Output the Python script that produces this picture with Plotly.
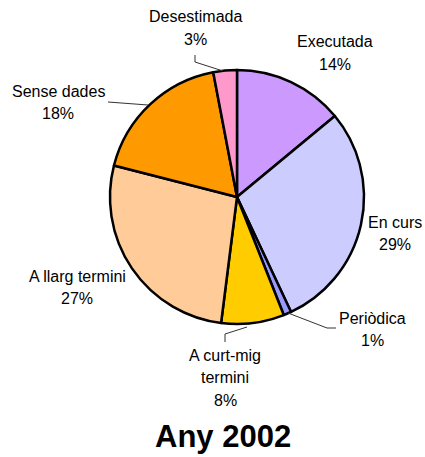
import plotly.graph_objects as go

# ---- data ----
labels = ["Executada", "En curs", "Periòdica", "A curt-mig termini",
          "A llarg termini", "Sense dades", "Desestimada"]
values = [14, 29, 1, 8, 27, 18, 3]
title_text = "Any 2002"

# ---- style ----
colors = ["#CC99FF", "#CCCCFF", "#9999FF", "#FFCC00", "#FFCC99", "#FF9900", "#FF99CC"]
W, H = 425, 457
FONT = "Liberation Sans, Arial, sans-serif"

name_lines = {
    "A curt-mig termini": ["A curt-mig", "termini"],
}
label_pos = {  # x centre, y of first line (window px)
    "Executada": (335, 42),
    "En curs": (395, 222),
    "Periòdica": (372, 318),
    "A curt-mig termini": (225, 355),
    "A llarg termini": (77, 276),
    "Sense dades": (58, 91),
    "Desestimada": (195, 17),
}
LINE_STEP = 22.5
leaders = [
    [(195, 55), (195, 62), (223, 71)],
    [(108, 102), (148, 105)],
    [(288, 313), (327, 328), (336, 328)],
    [(225, 342), (225, 334), (247, 327)],
]

cx, cy, r = 237, 197, 127

def px(x):
    return x / W

def py(y):
    return 1 - y / H

fig = go.Figure(go.Pie(
    labels=labels, values=values, sort=False, direction="clockwise",
    rotation=0, textinfo="none", hoverinfo="label+percent",
    marker=dict(colors=colors, line=dict(color="black", width=2.5)),
    domain=dict(x=[px(cx - r), px(cx + r)], y=[py(cy + r), py(cy - r)]),
    showlegend=False,
))

total = sum(values)
annotations = []
for lab, v in zip(labels, values):
    lines = name_lines.get(lab, [lab]) + [f"{round(v / total * 100)}%"]
    x0, y0 = label_pos[lab]
    for i, t in enumerate(lines):
        annotations.append(dict(
            x=px(x0), y=py(y0 + i * LINE_STEP), xref="paper", yref="paper",
            text=t, showarrow=False, xanchor="center", yanchor="middle",
            font=dict(family=FONT, size=16, color="black"),
        ))

annotations.append(dict(
    x=px(223), y=py(436), xref="paper", yref="paper", text=f"<b>{title_text}</b>",
    showarrow=False, xanchor="center", yanchor="middle",
    font=dict(family=FONT, size=31, color="black"),
))

shapes = []
for pts in leaders:
    path = "M " + " L ".join(f"{px(x)},{py(y)}" for x, y in pts)
    shapes.append(dict(type="path", path=path, xref="paper", yref="paper",
                       line=dict(color="#333333", width=1)))

fig.update_layout(
    width=W, height=H, margin=dict(l=0, r=0, t=0, b=0),
    paper_bgcolor="white", plot_bgcolor="white",
    annotations=annotations, shapes=shapes,
)

fig.write_html(
    "out.html",
    config={"displayModeBar": False},
    post_script="document.body.style.margin='0';document.body.style.overflow='hidden';",
)
